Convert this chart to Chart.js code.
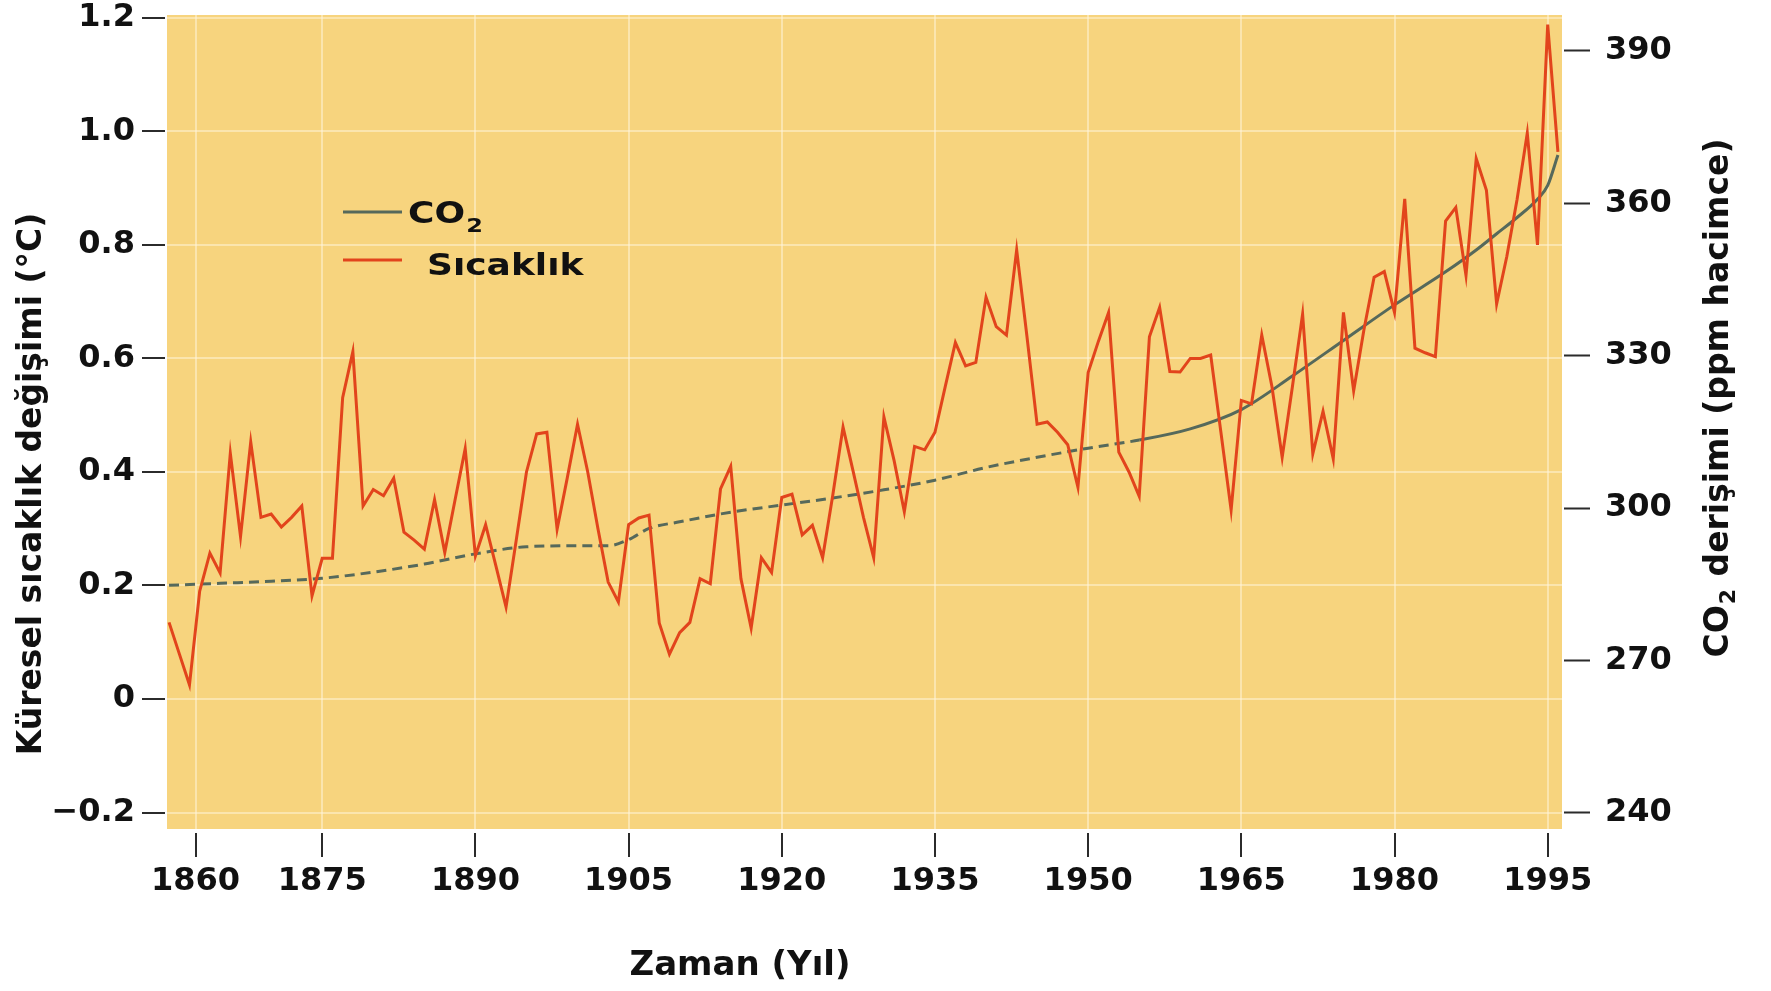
<!DOCTYPE html>
<html lang="tr">
<head>
<meta charset="utf-8">
<title>Küresel sıcaklık ve CO2</title>
<script src="https://cdn.jsdelivr.net/npm/chart.js@4.4.1/dist/chart.umd.min.js"></script>
<style>
  html, body { margin: 0; padding: 0; background: #ffffff; }
  canvas { display: block; }
</style>
</head>
<body>
<canvas id="climateChart" width="1771" height="991"></canvas>
<script>
// temperature change, one value per year (°C)
const years = [
  1860, 1861, 1862, 1863, 1864, 1865, 1866, 1867, 1868, 1869,
  1870, 1871, 1872, 1873, 1874, 1875, 1876, 1877, 1878, 1879,
  1880, 1881, 1882, 1883, 1884, 1885, 1886, 1887, 1888, 1889,
  1890, 1891, 1892, 1893, 1894, 1895, 1896, 1897, 1898, 1899,
  1900, 1901, 1902, 1903, 1904, 1905, 1906, 1907, 1908, 1909,
  1910, 1911, 1912, 1913, 1914, 1915, 1916, 1917, 1918, 1919,
  1920, 1921, 1922, 1923, 1924, 1925, 1926, 1927, 1928, 1929,
  1930, 1931, 1932, 1933, 1934, 1935, 1936, 1937, 1938, 1939,
  1940, 1941, 1942, 1943, 1944, 1945, 1946, 1947, 1948, 1949,
  1950, 1951, 1952, 1953, 1954, 1955, 1956, 1957, 1958, 1959,
  1960, 1961, 1962, 1963, 1964, 1965, 1966, 1967, 1968, 1969,
  1970, 1971, 1972, 1973, 1974, 1975, 1976, 1977, 1978, 1979,
  1980, 1981, 1982, 1983, 1984, 1985, 1986, 1987, 1988, 1989,
  1990, 1991, 1992, 1993, 1994, 1995, 1996
];
const tempValues = [
  0.135, 0.08, 0.025, 0.19, 0.257, 0.222, 0.433, 0.286, 0.453, 0.32,
  0.326, 0.303, 0.32, 0.34, 0.182, 0.248, 0.248, 0.531, 0.612, 0.34,
  0.369, 0.358, 0.389, 0.294, 0.28, 0.264, 0.351, 0.258, 0.35, 0.441,
  0.252, 0.307, 0.235, 0.162, 0.28, 0.40, 0.467, 0.47, 0.299, 0.39,
  0.484, 0.40, 0.30, 0.206, 0.171, 0.307, 0.319, 0.324, 0.134, 0.079,
  0.117, 0.135, 0.212, 0.203, 0.37, 0.41, 0.212, 0.125, 0.249, 0.223,
  0.355, 0.361, 0.289, 0.306, 0.249, 0.36, 0.479, 0.40, 0.32, 0.249,
  0.497, 0.42, 0.33, 0.445, 0.439, 0.47, 0.55, 0.628, 0.587, 0.593,
  0.708, 0.656, 0.641, 0.791, 0.64, 0.484, 0.488, 0.47, 0.448, 0.373,
  0.575, 0.63, 0.681, 0.435, 0.40, 0.357, 0.638, 0.69, 0.577, 0.576,
  0.60, 0.60, 0.606, 0.47, 0.333, 0.526, 0.52, 0.641, 0.55, 0.426,
  0.55, 0.678, 0.432, 0.507, 0.423, 0.681, 0.543, 0.65, 0.743, 0.753,
  0.681, 0.881, 0.618, 0.61, 0.603, 0.842, 0.866, 0.746, 0.952, 0.896,
  0.696, 0.78, 0.88, 0.997, 0.80, 1.188, 0.964
];

// CO2 concentration (ppm)
const co2Years = [
  1860, 1865, 1870, 1875, 1880, 1885, 1890, 1895, 1900, 1903,
  1905, 1907, 1910, 1915, 1920, 1925, 1930, 1935, 1940, 1945,
  1950, 1955, 1960, 1965, 1970, 1975, 1980, 1985, 1988, 1990,
  1992, 1994, 1995, 1996
];
const co2Values = [
  284.8, 285.2, 285.6, 286.2, 287.4, 289.0, 291.0, 292.4, 292.6, 292.6,
  293.8, 296.0, 297.3, 299.2, 300.6, 302.0, 303.6, 305.5, 308.0, 310.0,
  311.8, 313.4, 315.6, 319.4, 326.0, 333.0, 340.0, 346.5, 350.8, 354.0,
  357.2, 360.8, 363.5, 369.5
];
const co2DashedUntil = 1955; // estimated values before direct measurements

// axis ticks as printed on the figure
const yearTicks = [1862.6, 1875, 1890, 1905, 1920, 1935, 1950, 1965, 1980, 1995];
const yearTickLabels = ['1860', '1875', '1890', '1905', '1920', '1935', '1950', '1965', '1980', '1995'];
const tempTicks = [-0.2, 0, 0.2, 0.4, 0.6, 0.8, 1.0, 1.2];
const tempTickLabels = ['\u22120.2', '0', '0.2', '0.4', '0.6', '0.8', '1.0', '1.2'];
const co2Ticks = [240, 270, 300, 330, 360, 390];
const co2TickLabels = ['240', '270', '300', '330', '360', '390'];

const seriesNames = ['CO\u2082', 'Sıcaklık'];
const xTitle = 'Zaman (Yıl)';
const yTitle = 'Küresel sıcaklık değişimi (°C)';
const y1Title = 'CO\u2082 derişimi (ppm hacimce)';

const FONT = '"DejaVu Sans", "Liberation Sans", sans-serif';
const plotBg = '#F7D47E';
const gridColor = 'rgba(255, 246, 222, 0.5)';
const tickMarkColor = '#2b2b2b';
const textColor = '#111111';
const tempColor = '#E2441C';
const co2Color = '#56695B';

// draws text where '₂' becomes a small lowered 2; returns width
function subText(ctx, text, x, y, size, draw) {
  const parts = text.split('\u2082');
  let cx = x;
  parts.forEach((part, i) => {
    ctx.font = `bold ${size}px ${FONT}`;
    if (draw) ctx.fillText(part, cx, y);
    cx += ctx.measureText(part).width;
    if (i < parts.length - 1) {
      const small = Math.round(size * 0.66);
      ctx.font = `bold ${small}px ${FONT}`;
      if (draw) ctx.fillText('2', cx + 1, y + size * 0.3);
      cx += ctx.measureText('2').width + 2;
    }
  });
  return cx - x;
}

// keep the plot box where the figure has it, labels may overhang
function noLabelPadding(axis) {
  axis.paddingTop = 0;
  axis.paddingBottom = 0;
}

const plotBackground = {
  id: 'plotBackground',
  beforeDraw(chart) {
    const { ctx, chartArea: a } = chart;
    ctx.save();
    ctx.fillStyle = '#ffffff';
    ctx.fillRect(0, 0, chart.width, chart.height);
    ctx.fillStyle = plotBg;
    ctx.fillRect(a.left, a.top, a.right - a.left, a.bottom - a.top);
    ctx.restore();
  }
};

const titlesAndLegend = {
  id: 'titlesAndLegend',
  afterDraw(chart) {
    const ctx = chart.ctx;
    ctx.save();
    ctx.fillStyle = textColor;
    ctx.textAlign = 'left';

    // left title, reads bottom to top
    ctx.save();
    ctx.translate(32, 484);
    ctx.rotate(-Math.PI / 2);
    ctx.textBaseline = 'middle';
    ctx.textAlign = 'center';
    ctx.font = `bold 33px ${FONT}`;
    ctx.fillText(yTitle, 0, 0);
    ctx.restore();

    // bottom title
    ctx.save();
    ctx.textBaseline = 'middle';
    ctx.textAlign = 'center';
    ctx.font = `bold 34px ${FONT}`;
    ctx.fillText(xTitle, 740, 966);
    ctx.restore();

    // right title, also bottom to top, with subscript
    ctx.save();
    ctx.translate(1719, 398);
    ctx.rotate(-Math.PI / 2);
    ctx.textBaseline = 'middle';
    const w = subText(ctx, y1Title, 0, 0, 33, false);
    subText(ctx, y1Title, -w / 2, 0, 33, true);
    ctx.restore();

    // legend
    const rows = [
      { ds: chart.data.datasets[1], lineY: 212, textX: 408, baseY: 223 },
      { ds: chart.data.datasets[0], lineY: 260, textX: 427, baseY: 275 }
    ];
    rows.forEach(r => {
      ctx.strokeStyle = r.ds.borderColor;
      ctx.lineWidth = 3;
      ctx.beginPath();
      ctx.moveTo(343, r.lineY);
      ctx.lineTo(402, r.lineY);
      ctx.stroke();
      ctx.save();
      ctx.translate(r.textX, r.baseY);
      ctx.scale(1.2, 1);
      ctx.textBaseline = 'alphabetic';
      ctx.fillStyle = textColor;
      subText(ctx, r.ds.label, 0, 0, 30, true);
      ctx.restore();
    });
    ctx.restore();
  }
};

const tickFont = { family: FONT, weight: 'bold', size: 32 };

new Chart(document.getElementById('climateChart'), {
  type: 'line',
  data: {
    datasets: [
      {
        label: seriesNames[1],
        data: years.map((yr, i) => ({ x: yr, y: tempValues[i] })),
        yAxisID: 'y',
        borderColor: tempColor,
        borderWidth: 3,
        pointRadius: 0,
        tension: 0,
        fill: false
      },
      {
        label: seriesNames[0],
        data: co2Years.map((yr, i) => ({ x: yr, y: co2Values[i] })),
        yAxisID: 'y1',
        borderColor: co2Color,
        borderWidth: 3,
        pointRadius: 0,
        cubicInterpolationMode: 'monotone',
        fill: false,
        segment: {
          borderDash: ctx => ctx.p0.parsed.x < co2DashedUntil ? [10, 6] : []
        }
      }
    ]
  },
  options: {
    responsive: false,
    animation: false,
    layout: { padding: { top: 15, left: 0, right: 0, bottom: 0 } },
    plugins: {
      legend: { display: false },
      tooltip: { enabled: false }
    },
    scales: {
      x: {
        type: 'linear',
        min: 1859.8,
        max: 1996.4,
        afterBuildTicks: axis => { axis.ticks = yearTicks.map(v => ({ value: v })); },
        afterFit: axis => { axis.height = 162; },
        border: { display: false },
        grid: {
          color: gridColor,
          lineWidth: 2,
          tickColor: tickMarkColor,
          tickWidth: 2,
          tickLength: 28,
          tickBorderDash: [0, 4, 24, 100]
        },
        ticks: {
          autoSkip: false,
          maxRotation: 0,
          padding: 5,
          color: textColor,
          font: tickFont,
          callback: (v, i) => yearTickLabels[i]
        }
      },
      y: {
        position: 'left',
        min: -0.229,
        max: 1.205,
        afterBuildTicks: axis => { axis.ticks = tempTicks.map(v => ({ value: v })); },
        afterFit: axis => { axis.width = 167; noLabelPadding(axis); },
        border: { display: false },
        grid: {
          color: gridColor,
          lineWidth: 2,
          tickColor: tickMarkColor,
          tickWidth: 2,
          tickLength: 25,
          tickBorderDash: [23, 100]
        },
        ticks: {
          padding: 7,
          color: textColor,
          font: tickFont,
          callback: (v, i) => tempTickLabels[i]
        }
      },
      y1: {
        position: 'right',
        min: 236.85,
        max: 397.05,
        afterBuildTicks: axis => { axis.ticks = co2Ticks.map(v => ({ value: v })); },
        afterFit: axis => { axis.width = 209; noLabelPadding(axis); },
        border: { display: false },
        grid: {
          drawOnChartArea: false,
          tickColor: tickMarkColor,
          tickWidth: 2,
          tickLength: 28,
          tickBorderDash: [0, 2, 26, 100]
        },
        ticks: {
          padding: 15,
          color: textColor,
          font: tickFont,
          callback: (v, i) => co2TickLabels[i]
        }
      }
    }
  },
  plugins: [plotBackground, titlesAndLegend]
});
</script>
</body>
</html>
